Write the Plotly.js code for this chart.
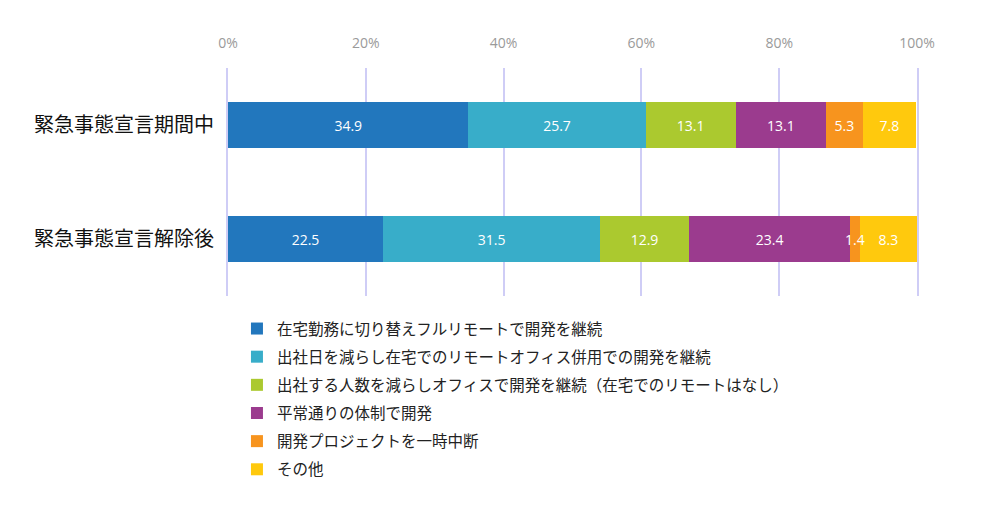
<!DOCTYPE html>
<html>
<head>
<meta charset="utf-8">
<script src="https://cdn.plot.ly/plotly-3.0.1.min.js"></script>
<style>
  html, body { margin: 0; padding: 0; background: #fff; }
  #chart { width: 1000px; height: 507px; }
</style>
</head>
<body>
<div id="chart"></div>
<script>
// periods (rows of the chart)
let periods = ['緊急事態宣言期間中', '緊急事態宣言解除後'];

// answers, one series each
let seriesNames = [
  '在宅勤務に切り替えフルリモートで開発を継続',
  '出社日を減らし在宅でのリモートオフィス併用での開発を継続',
  '出社する人数を減らしオフィスで開発を継続（在宅でのリモートはなし）',
  '平常通りの体制で開発',
  '開発プロジェクトを一時中断',
  'その他'
];
let fullRemote = [34.9, 22.5];
let mixedRemote = [25.7, 31.5];
let fewerPeople = [13.1, 12.9];
let asUsual = [13.1, 23.4];
let paused = [5.3, 1.4];
let other = [7.8, 8.3];

let seriesColors = ['#2277bd', '#38adc9', '#abc92f', '#9b3b8e', '#f7941e', '#ffc90d'];

let tickVals = [0, 20, 40, 60, 80, 100];
let tickText = ['0%', '20%', '40%', '60%', '80%', '100%'];

let allValues = [fullRemote, mixedRemote, fewerPeople, asUsual, paused, other];

// segments too thin for their label get it as an annotation on top
let smallLimit = 3;
let barFont = { family: 'Open Sans, sans-serif', size: 14, color: '#ffffff' };

let traces = [];
let annotations = [];
let running = periods.map(() => 0);
for (let i = 0; i < allValues.length; i++) {
  let labels = [];
  for (let j = 0; j < periods.length; j++) {
    let v = allValues[i][j];
    if (v < smallLimit) {
      labels.push('');
      annotations.push({
        x: running[j] + v / 2, y: periods[j], xref: 'x', yref: 'y',
        text: v.toFixed(1), showarrow: false, font: barFont
      });
    } else {
      labels.push(v.toFixed(1));
    }
    running[j] += v;
  }
  traces.push({
    type: 'bar',
    orientation: 'h',
    name: seriesNames[i],
    x: allValues[i],
    y: periods,
    width: 0.4,
    legendgroup: 'g' + i,
    marker: { color: seriesColors[i], line: { width: 0 } },
    text: labels,
    texttemplate: '%{text}',
    textposition: 'inside',
    insidetextanchor: 'middle',
    textangle: 0,
    constraintext: 'none',
    textfont: barFont,
    hoverinfo: 'name+x'
  });
}

let layout = {
  barmode: 'stack',
  width: 1000,
  height: 507,
  margin: { l: 228, r: 83, t: 68, b: 211, autoexpand: false },
  paper_bgcolor: '#ffffff',
  plot_bgcolor: '#ffffff',
  bargap: 0.6,
  showlegend: true,
  annotations: annotations,
  legend: {
    orientation: 'v',
    x: 0.013,
    xanchor: 'left',
    y: -0.07,
    yanchor: 'top',
    traceorder: 'grouped',
    tracegroupgap: 5,
    itemwidth: 30,
    font: { family: 'Noto Sans CJK JP, sans-serif', size: 15.5, color: '#222222' }
  },
  xaxis: {
    side: 'top',
    range: [0, 100],
    tickvals: tickVals,
    ticktext: tickText,
    showgrid: true,
    gridcolor: '#cfcdf6',
    gridwidth: 2,
    zeroline: false,
    showline: false,
    ticks: '',
    ticklabelstandoff: 16,
    tickfont: { family: 'Open Sans, sans-serif', size: 14, color: '#9a9a9a' },
    fixedrange: true
  },
  yaxis: {
    autorange: false,
    range: [1.5, -0.5],
    showgrid: false,
    zeroline: false,
    showline: true,
    mirror: true,
    linecolor: '#cfcdf6',
    linewidth: 2,
    ticks: '',
    ticklabelstandoff: 8,
    tickfont: { family: 'Noto Sans CJK JP, sans-serif', size: 20, color: '#111111' },
    fixedrange: true
  }
};

Plotly.newPlot('chart', traces, layout, { displayModeBar: false, staticPlot: true });
</script>
</body>
</html>
